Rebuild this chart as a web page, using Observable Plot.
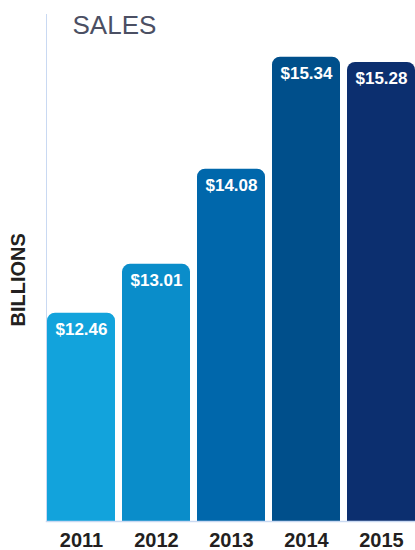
<!DOCTYPE html>
<html>
<head>
<meta charset="utf-8">
<script src="https://cdn.jsdelivr.net/npm/d3@7"></script>
<script src="https://cdn.jsdelivr.net/npm/@observablehq/plot@0.6"></script>
<style>
  html, body { margin: 0; padding: 0; background: #fff; }
  #chart svg { display: block; }
</style>
</head>
<body>
<div id="chart"></div>
<script>
const years = ["2011", "2012", "2013", "2014", "2015"];
const sales = [12.46, 13.01, 14.08, 15.34, 15.28];
const colors = ["#12a3dc", "#0a8dca", "#0067ab", "#004f8b", "#0c2f6f"];
const title = "SALES";
const yLabel = "BILLIONS";

const yMin = 10.117, yMax = 15.82;
const data = years.map((y, i) => ({year: y, value: sales[i]}));

const chart = Plot.plot({
  width: 415,
  height: 550,
  marginLeft: 46,
  marginRight: 0,
  marginTop: 14,
  marginBottom: 29,
  style: {fontFamily: "'Liberation Sans', Arial, Helvetica, sans-serif", background: "#fff"},
  x: {domain: years, range: [47, 414.5], paddingInner: 0.1, paddingOuter: 0, axis: null},
  y: {domain: [yMin, yMax], axis: null},
  color: {type: "ordinal", domain: years, range: colors},
  marks: [
    Plot.barY(data, {x: "year", y1: yMin - 0.15, y2: "value", fill: "year", rx: 8, clip: true}),
    Plot.frame({anchor: "left", stroke: "#c9d9f2", strokeWidth: 1}),
    Plot.frame({anchor: "bottom", stroke: "#c9d9f2", strokeWidth: 1.5}),
    Plot.text(data, {x: "year", y: "value", text: d => "$" + d.value.toFixed(2), dy: 16, fill: "#fff", fontWeight: "bold", fontSize: 17}),
    Plot.text(data, {x: "year", y: () => yMin, text: "year", dy: 19, fill: "#231f20", fontWeight: "bold", fontSize: 20}),
    Plot.text([title], {frameAnchor: "top-left", dx: 26, dy: 11, lineAnchor: "middle", textAnchor: "start", fill: "#4b4f63", fontSize: 26}),
    Plot.text([yLabel], {frameAnchor: "left", dx: -28, dy: 58.5, rotate: -90, fill: "#231f20", fontWeight: "bold", fontSize: 20, letterSpacing: 1.5})
  ]
});
document.getElementById("chart").appendChild(chart);
</script>
</body>
</html>
